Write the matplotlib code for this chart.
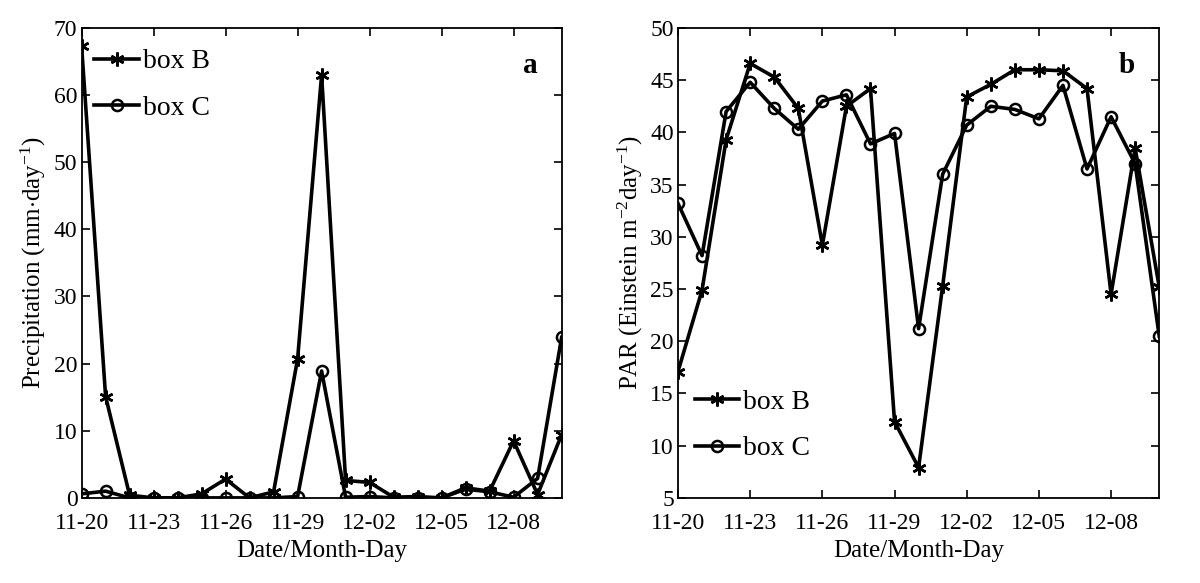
import matplotlib
matplotlib.use('Agg')
from matplotlib import pyplot as plt

plt.rcParams['font.family'] = ['Liberation Serif', 'DejaVu Serif']
plt.rcParams['mathtext.fontset'] = 'custom'
plt.rcParams['mathtext.rm'] = 'Liberation Serif'
plt.rcParams['mathtext.it'] = 'Liberation Serif:italic'
plt.rcParams['axes.unicode_minus'] = False

days = ['11-20', '11-21', '11-22', '11-23', '11-24', '11-25', '11-26', '11-27',
        '11-28', '11-29', '11-30', '12-01', '12-02', '12-03', '12-04', '12-05',
        '12-06', '12-07', '12-08', '12-09', '12-10']
tick_labels = ['11-20', '11-23', '11-26', '11-29', '12-02', '12-05', '12-08']

precip_b = [67.3, 15.1, 0.4, 0.0, 0.0, 0.6, 2.8, 0.0, 0.9, 20.7, 63.0,
            2.6, 2.3, 0.1, 0.2, 0.0, 1.5, 1.0, 8.5, 0.5, 9.4]
precip_c = [0.6, 1.0, 0.0, 0.0, 0.0, 0.0, 0.0, 0.0, 0.0, 0.2, 18.9,
            0.1, 0.2, 0.0, 0.0, 0.0, 1.3, 0.9, 0.1, 2.9, 23.9]

par_b = [17.1, 24.9, 39.3, 46.6, 45.3, 42.3, 29.2, 42.5, 44.2, 12.3, 7.9,
         25.3, 43.4, 44.6, 46.0, 46.0, 45.9, 44.2, 24.5, 38.5, 25.2]
par_c = [33.2, 28.2, 42.0, 44.8, 42.3, 40.3, 43.0, 43.6, 38.9, 39.9, 21.2,
         36.0, 40.7, 42.5, 42.2, 41.3, 44.5, 36.5, 41.5, 37.0, 20.5]

x = list(range(len(days)))
tick_pos = [days.index(t) for t in tick_labels]

fig = plt.figure(figsize=(12, 5.83), dpi=100)
ax1 = fig.add_axes([0.068, 0.146, 0.400, 0.806])
ax2 = fig.add_axes([0.565, 0.146, 0.401, 0.806])

star = (6, 2, 0)


def draw(ax, yb, yc):
    ax.plot(x, yb, color='black', lw=2.6, marker=star, ms=10, mew=1.8, label='box B')
    ax.plot(x, yc, color='black', lw=2.6, marker='o', ms=8, mfc='none', mew=1.8, label='box C')
    ax.set_xlim(0, len(days) - 1)
    ax.set_xticks(tick_pos)
    ax.set_xticklabels(tick_labels)
    ax.tick_params(direction='in', top=True, right=True, labelsize=17, length=6, width=1.2)
    ax.tick_params(axis='x', pad=11)
    ax.tick_params(axis='y', pad=3)
    for s in ax.spines.values():
        s.set_linewidth(1.3)
    ax.set_xlabel('Date/Month-Day', fontsize=18, labelpad=4)


draw(ax1, precip_b, precip_c)
ax1.set_ylim(0, 70)
ax1.set_yticks(range(0, 71, 10))
ax1.set_ylabel('Precipitation (mm$\\cdot$day$^{-1}$)', fontsize=18, labelpad=4)
ax1.legend(loc='upper left', frameon=False, fontsize=20, handlelength=1.6,
           handletextpad=0.15, borderaxespad=0.2, labelspacing=0.75,
           bbox_to_anchor=(-0.008, 0.991))
ax1.text(0.95, 0.92, 'a', transform=ax1.transAxes, fontsize=21, fontweight='bold',
         ha='right', va='center')

draw(ax2, par_b, par_c)
ax2.set_ylim(5, 50)
ax2.set_yticks(range(5, 51, 5))
ax2.set_ylabel('PAR (Einstein m$^{-2}$day$^{-1}$)', fontsize=18, labelpad=4)
ax2.legend(loc='lower left', frameon=False, fontsize=20, handlelength=1.6,
           handletextpad=0.15, borderaxespad=0.2, labelspacing=0.75, bbox_to_anchor=(0, 0.042))
ax2.text(0.95, 0.92, 'b', transform=ax2.transAxes, fontsize=21, fontweight='bold',
         ha='right', va='center')

fig.savefig('out.png', dpi=100)
